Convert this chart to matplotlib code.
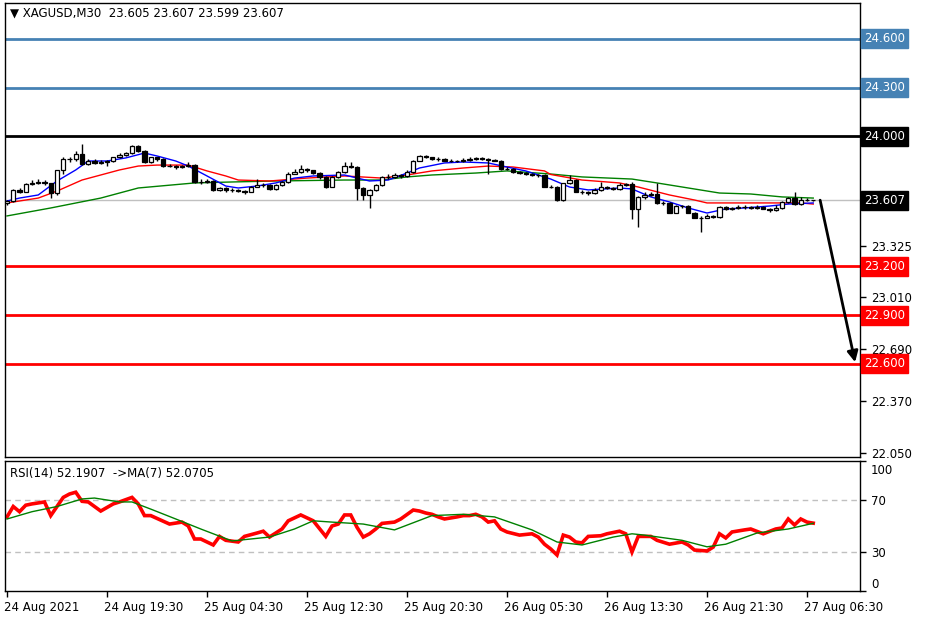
import numpy as np
import matplotlib
matplotlib.use("Agg")
import matplotlib.pyplot as plt
import matplotlib.transforms as mtransforms

# ---- XAGUSD M30 candles (bar index 0..129) ----
first_open = 23.590
closes = [23.600, 23.670, 23.660, 23.705, 23.710, 23.720, 23.710, 23.650, 23.790, 23.860,
          23.860, 23.890, 23.830, 23.850, 23.835, 23.840, 23.845, 23.870, 23.885, 23.895,
          23.940, 23.910, 23.840, 23.870, 23.860, 23.820, 23.820, 23.810, 23.815, 23.825,
          23.720, 23.720, 23.725, 23.670, 23.680, 23.670, 23.670, 23.665, 23.660, 23.690,
          23.700, 23.700, 23.675, 23.700, 23.720, 23.770, 23.780, 23.800, 23.790, 23.775,
          23.750, 23.690, 23.750, 23.780, 23.820, 23.810, 23.680, 23.640, 23.670, 23.700,
          23.750, 23.750, 23.760, 23.755, 23.780, 23.850, 23.880, 23.870, 23.860, 23.860,
          23.850, 23.850, 23.845, 23.855, 23.860, 23.865, 23.860, 23.855, 23.850, 23.800,
          23.800, 23.780, 23.775, 23.770, 23.760, 23.760, 23.690, 23.690, 23.610, 23.710,
          23.730, 23.660, 23.655, 23.650, 23.670, 23.690, 23.680, 23.675, 23.700, 23.705,
          23.550, 23.625, 23.640, 23.645, 23.590, 23.590, 23.530, 23.570, 23.570, 23.530,
          23.500, 23.500, 23.510, 23.505, 23.565, 23.550, 23.560, 23.565, 23.565, 23.560,
          23.565, 23.555, 23.545, 23.560, 23.595, 23.620, 23.585, 23.610, 23.605, 23.607]
highs = [23.610, 23.675, 23.680, 23.710, 23.730, 23.735, 23.730, 23.715, 23.795, 23.870,
         23.875, 23.910, 23.950, 23.860, 23.860, 23.855, 23.855, 23.875, 23.895, 23.905,
         23.945, 23.945, 23.915, 23.875, 23.875, 23.865, 23.830, 23.825, 23.825, 23.840,
         23.830, 23.735, 23.735, 23.730, 23.690, 23.685, 23.680, 23.675, 23.670, 23.695,
         23.735, 23.710, 23.705, 23.705, 23.725, 23.780, 23.800, 23.825, 23.805, 23.795,
         23.780, 23.755, 23.755, 23.785, 23.840, 23.840, 23.815, 23.685, 23.675, 23.705,
         23.755, 23.765, 23.775, 23.770, 23.790, 23.855, 23.885, 23.885, 23.875, 23.870,
         23.865, 23.860, 23.855, 23.865, 23.870, 23.875, 23.870, 23.865, 23.860, 23.855,
         23.810, 23.805, 23.785, 23.780, 23.775, 23.770, 23.765, 23.700, 23.695, 23.715,
         23.760, 23.735, 23.670, 23.665, 23.680, 23.720, 23.695, 23.690, 23.710, 23.715,
         23.720, 23.630, 23.655, 23.660, 23.710, 23.600, 23.595, 23.575, 23.580, 23.575,
         23.535, 23.510, 23.520, 23.515, 23.570, 23.570, 23.565, 23.575, 23.575, 23.570,
         23.580, 23.570, 23.560, 23.575, 23.600, 23.625, 23.660, 23.625, 23.620, 23.607]
lows = [23.575, 23.595, 23.650, 23.655, 23.700, 23.705, 23.700, 23.620, 23.640, 23.770,
        23.840, 23.850, 23.825, 23.825, 23.830, 23.830, 23.820, 23.840, 23.865, 23.880,
        23.890, 23.905, 23.835, 23.835, 23.850, 23.810, 23.810, 23.800, 23.805, 23.810,
        23.715, 23.705, 23.710, 23.665, 23.665, 23.660, 23.660, 23.655, 23.645, 23.655,
        23.685, 23.690, 23.670, 23.670, 23.695, 23.715, 23.765, 23.775, 23.780, 23.770,
        23.740, 23.680, 23.685, 23.745, 23.775, 23.805, 23.610, 23.610, 23.560, 23.665,
        23.695, 23.740, 23.745, 23.745, 23.750, 23.775, 23.845, 23.865, 23.855, 23.850,
        23.845, 23.840, 23.840, 23.840, 23.850, 23.855, 23.855, 23.770, 23.845, 23.795,
        23.790, 23.775, 23.765, 23.760, 23.755, 23.750, 23.685, 23.680, 23.600, 23.600,
        23.705, 23.655, 23.645, 23.640, 23.645, 23.665, 23.675, 23.670, 23.670, 23.695,
        23.490, 23.440, 23.615, 23.635, 23.585, 23.580, 23.525, 23.525, 23.560, 23.525,
        23.495, 23.410, 23.495, 23.495, 23.500, 23.545, 23.545, 23.555, 23.555, 23.550,
        23.555, 23.550, 23.535, 23.540, 23.555, 23.590, 23.580, 23.580, 23.600, 23.599]

# moving averages on the price chart (bar index, price)
ma_fast_idx = [0, 2, 5, 8, 11, 13, 16, 19, 22, 24, 27, 29, 32, 35, 37, 40, 43, 46, 49, 54,
               58, 61, 64, 66, 70, 73, 77, 80, 83, 87, 90, 93, 98, 100, 103, 106, 109, 112,
               115, 118, 122, 125, 129]
ma_fast = [23.602, 23.620, 23.639, 23.725, 23.793, 23.848, 23.848, 23.867, 23.897, 23.879,
           23.848, 23.817, 23.756, 23.694, 23.682, 23.694, 23.713, 23.743, 23.756, 23.762,
           23.725, 23.731, 23.774, 23.805, 23.836, 23.842, 23.836, 23.811, 23.787, 23.737,
           23.688, 23.670, 23.682, 23.676, 23.627, 23.596, 23.559, 23.528, 23.553, 23.559,
           23.571, 23.583, 23.590]
ma_mid_idx = [0, 5, 8, 12, 15, 18, 21, 24, 29, 32, 35, 37, 42, 48, 54, 60, 64, 68, 73, 77,
              81, 86, 87, 92, 98, 101, 106, 110, 112, 117, 122, 127, 129]
ma_mid = [23.590, 23.620, 23.663, 23.731, 23.762, 23.793, 23.817, 23.823, 23.823, 23.787,
          23.756, 23.731, 23.725, 23.743, 23.756, 23.743, 23.762, 23.787, 23.805, 23.817,
          23.811, 23.787, 23.765, 23.731, 23.713, 23.688, 23.639, 23.608, 23.590, 23.590,
          23.590, 23.590, 23.583]
ma_slow_idx = [0, 7, 15, 21, 30, 36, 43, 54, 60, 64, 68, 75, 80, 87, 92, 100, 104, 109, 114,
               119, 124, 129]
ma_slow = [23.510, 23.559, 23.620, 23.682, 23.713, 23.719, 23.725, 23.731, 23.731, 23.750,
           23.762, 23.774, 23.787, 23.768, 23.750, 23.737, 23.713, 23.682, 23.651, 23.645,
           23.627, 23.620]

# RSI(14) and its MA(7)
rsi_idx = [0, 1, 2, 3, 4, 6, 7, 8, 9, 10, 11, 12, 13, 15, 17, 18, 20, 21, 22, 23, 26, 28, 29,
           30, 31, 33, 34, 35, 37, 38, 40, 41, 42, 44, 45, 47, 49, 51, 52, 53, 54, 55, 56, 57,
           58, 59, 60, 62, 63, 65, 66, 67, 68, 69, 70, 72, 73, 74, 75, 76, 77, 78, 79, 80, 82,
           84, 85, 86, 87, 88, 89, 90, 91, 92, 93, 95, 96, 98, 99, 100, 101, 103, 104, 106,
           108, 109, 110, 112, 113, 114, 115, 116, 118, 119, 121, 123, 124, 125, 126, 127,
           128, 129]
rsi = [57.0, 65.0, 61.0, 66.0, 67.0, 68.5, 58.0, 65.0, 72.0, 74.6, 76.0, 69.0, 68.5, 61.5,
       67.0, 68.5, 72.0, 67.0, 58.0, 58.0, 51.5, 53.0, 50.0, 40.0, 40.0, 35.4, 42.0, 39.0,
       37.7, 42.0, 44.6, 46.0, 41.5, 47.7, 54.0, 58.5, 54.0, 42.0, 50.0, 51.5, 58.5, 58.5,
       49.0, 41.5, 44.0, 47.7, 52.0, 53.0, 55.4, 62.3, 61.5, 60.0, 59.0, 57.0, 55.4, 57.0,
       58.0, 58.0, 59.0, 57.0, 53.0, 54.0, 47.7, 45.4, 43.0, 44.0, 41.5, 36.0, 32.3, 27.7,
       43.0, 41.5, 37.7, 37.0, 42.0, 42.5, 44.0, 46.0, 44.0, 30.0, 42.0, 42.0, 39.0, 36.0,
       37.7, 35.4, 31.5, 30.8, 33.8, 44.0, 40.8, 45.4, 47.0, 47.7, 44.0, 47.7, 48.5, 55.4,
       50.8, 55.4, 53.0, 52.19]
rsi_ma_idx = [0, 4, 8, 12, 14, 18, 20, 23, 27, 31, 36, 42, 46, 49, 52, 57, 62, 68, 73, 78,
              84, 88, 92, 97, 100, 102, 108, 112, 115, 120, 125, 129]
rsi_ma = [55.4, 61.0, 65.0, 70.8, 71.5, 68.5, 68.5, 63.0, 55.4, 47.7, 38.5, 41.5, 47.7,
          54.0, 53.0, 51.5, 47.0, 58.0, 59.0, 57.0, 47.0, 37.7, 35.4, 41.5, 44.0, 43.0,
          39.0, 34.0, 36.0, 44.6, 47.7, 52.07]

# price scale: ticks whose labels sit under the level boxes are kept as marks only
price_ticks = [22.050, 22.370, 22.690, 23.010, 23.325, 23.645, 23.965, 24.285, 24.605]
price_tick_labels = ["22.050", "22.370", "22.690", "23.010", "23.325", "", "", "", ""]
levels = [24.600, 24.300, 24.000, 23.200, 22.900, 22.600]
level_colors = ["#4682b4", "#4682b4", "black", "#ff0000", "#ff0000", "#ff0000"]
time_ticks = [0, 16, 32, 48, 64, 80, 96, 112, 128]
time_labels = ["24 Aug 2021", "24 Aug 19:30", "25 Aug 04:30", "25 Aug 12:30", "25 Aug 20:30",
               "26 Aug 05:30", "26 Aug 13:30", "26 Aug 21:30", "27 Aug 06:30"]
last_price = 23.607
target_price = 22.61

plt.rcParams["font.family"] = ["DejaVu Sans"]
fs = 8.5

fig = plt.figure(figsize=(9.27, 6.26), dpi=100)
ax = fig.add_axes([5 / 927, 1 - 457 / 626, 855 / 927, 454 / 626])
ax2 = fig.add_axes([5 / 927, 1 - 591 / 626, 855 / 927, 130 / 626])

n = len(closes)
idx = np.arange(n)
opens = np.array([first_open] + closes[:-1])
closes_a = np.array(closes)
up = closes_a >= opens

# candles
ax.vlines(idx, lows, highs, color="black", lw=1, zorder=3)
body_bottom = np.minimum(opens, closes_a)
body_height = np.abs(closes_a - opens)
ax.bar(idx, body_height, bottom=body_bottom, width=0.66,
       color=np.where(up, "white", "black"), edgecolor="black", lw=0.9, zorder=4)

ax.plot(ma_slow_idx, ma_slow, color="#008000", lw=1, zorder=2)
ax.plot(ma_mid_idx, ma_mid, color="#ff0000", lw=1, zorder=2)
ax.plot(ma_fast_idx, ma_fast, color="#0000ff", lw=1, zorder=2)

ax.axhline(last_price, color="#c0c0c0", lw=1, zorder=1)
for lv, col in zip(levels, level_colors):
    ax.axhline(lv, color=col, lw=2, zorder=2)

ax.annotate("", xy=(135.7, target_price), xytext=(130.1, last_price),
            arrowprops=dict(arrowstyle="-|>", color="black", lw=2, mutation_scale=16,
                            shrinkA=0, shrinkB=0), zorder=6)

ax.set_xlim(-0.32, 136.48)
ax.set_ylim(22.0265, 24.8204)
ax.set_xticks([])
ax.yaxis.tick_right()
ax.set_yticks(price_ticks)
ax.set_yticklabels(price_tick_labels)
ax.tick_params(axis="y", direction="out", length=4, width=1, labelsize=fs, pad=4)

trans = mtransforms.blended_transform_factory(ax.transAxes, ax.transData)
box_items = list(zip(levels, level_colors)) + [(last_price, "black")]
for lv, col in box_items:
    ax.text(1.0048, lv, f"{lv:.3f}", transform=trans, color="white", fontsize=fs,
            va="center", ha="left", zorder=10, clip_on=False,
            bbox=dict(boxstyle="square,pad=0.25", facecolor=col, edgecolor=col))

ax.text(0.006, 0.977, "\u25bc XAGUSD,M30  23.605 23.607 23.599 23.607", transform=ax.transAxes,
        fontsize=fs, va="center", ha="left")

# RSI panel
ax2.axhline(70, color="#c0c0c0", lw=1, ls=(0, (4, 3)))
ax2.axhline(30, color="#c0c0c0", lw=1, ls=(0, (4, 3)))
ax2.plot(rsi_idx, rsi, color="#ff0000", lw=2.6, solid_joinstyle="miter")
ax2.plot(rsi_ma_idx, rsi_ma, color="#008000", lw=1)
ax2.set_xlim(-0.32, 136.48)
ax2.set_ylim(0, 100)
ax2.yaxis.tick_right()
ax2.set_yticks([0, 30, 70, 100])
ax2.set_yticklabels(["0", "30", "70", "100"])
ax2.tick_params(axis="y", direction="out", length=4, width=1, labelsize=fs, pad=4)
ylabs = ax2.get_yticklabels()
ylabs[0].set_va("bottom")
ylabs[-1].set_va("top")
ylabs[-1].set_transform(ylabs[-1].get_transform() + mtransforms.ScaledTranslation(0, -3 / 100, fig.dpi_scale_trans))
ax2.set_xticks(time_ticks)
ax2.set_xticklabels(time_labels, ha="left")
ax2.tick_params(axis="x", direction="out", length=4, width=1, labelsize=fs, pad=3)
for lab in ax2.get_xticklabels():
    lab.set_transform(lab.get_transform() + mtransforms.ScaledTranslation(-3 / 100, 0, fig.dpi_scale_trans))
ax2.text(0.006, 0.9, "RSI(14) 52.1907  ->MA(7) 52.0705", transform=ax2.transAxes,
         fontsize=fs, va="center", ha="left")

for a in (ax, ax2):
    for s in a.spines.values():
        s.set_color("black")
        s.set_linewidth(1)

fig.savefig("out.png", dpi=100)
